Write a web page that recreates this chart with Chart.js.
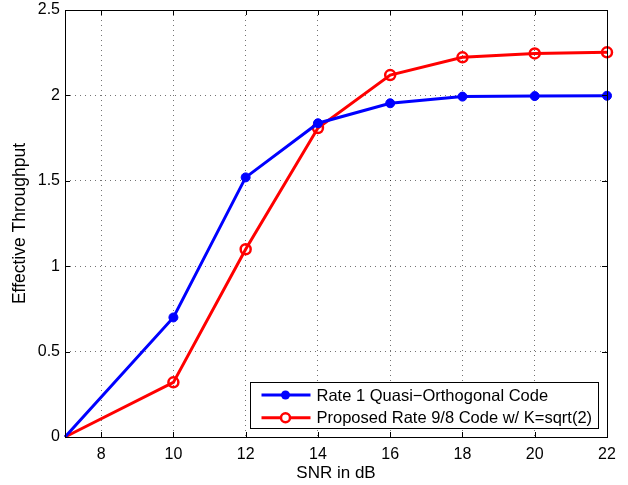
<!DOCTYPE html>
<html>
<head>
<meta charset="utf-8">
<script src="https://cdn.jsdelivr.net/npm/chart.js@4.4.1/dist/chart.umd.min.js"></script>
<style>
  html, body { margin: 0; padding: 0; background: #ffffff; }
  #wrap { width: 628px; height: 485px; }
</style>
</head>
<body>
<div id="wrap"><canvas id="c" width="628" height="485"></canvas></div>
<script>
const snr = [7, 10, 12, 14, 16, 18, 20, 22];
const rate1Quasi = [0, 0.70, 1.52, 1.837, 1.954, 1.993, 1.996, 1.998];
const proposed98 = [0, 0.32, 1.099, 1.809, 2.119, 2.223, 2.246, 2.252];
const xTicks = [8, 10, 12, 14, 16, 18, 20, 22];
const yTicks = [0, 0.5, 1, 1.5, 2, 2.5];
const seriesLabels = ['Rate 1 Quasi\u2212Orthogonal Code', 'Proposed Rate 9/8 Code w/ K=sqrt(2)'];
const xTitle = 'SNR in dB';
const yTitle = 'Effective Throughput';

const FONT = "'Liberation Sans', Arial, Helvetica, sans-serif";

function pts(ys) { return snr.map((x, i) => ({ x: x, y: ys[i] })); }
function radii(r) { return snr.map((x, i) => i === 0 ? 0 : r); }

const boxPlugin = {
  id: 'boxPlugin',
  afterDatasetsDraw(chart) {
    const ctx = chart.ctx;
    const a = chart.chartArea;
    const xs = chart.scales.x, ys = chart.scales.y;
    ctx.save();
    ctx.strokeStyle = '#000';
    ctx.lineWidth = 1;
    ctx.beginPath();
    xTicks.forEach(v => {
      const px = Math.round(xs.getPixelForValue(v)) + 0.5;
      ctx.moveTo(px, a.bottom); ctx.lineTo(px, a.bottom - 5);
      ctx.moveTo(px, a.top); ctx.lineTo(px, a.top + 5);
    });
    yTicks.forEach(v => {
      const py = Math.round(ys.getPixelForValue(v)) + 0.5;
      ctx.moveTo(a.left, py); ctx.lineTo(a.left + 5, py);
      ctx.moveTo(a.right, py); ctx.lineTo(a.right - 5, py);
    });
    ctx.stroke();
    ctx.strokeRect(Math.round(a.left) + 0.5, Math.round(a.top) + 0.5,
                   Math.round(a.right - a.left), Math.round(a.bottom - a.top));
    // legend
    ctx.font = '16.5px ' + FONT;
    const tw = Math.max(...seriesLabels.map(s => ctx.measureText(s).width));
    const bw = Math.round(66 + tw + 6);
    const bh = 46;
    const bx = Math.round(a.right - 9 - bw) + 0.5;
    const by = Math.round(a.bottom - 9 - bh) + 0.5;
    ctx.fillStyle = '#fff';
    ctx.fillRect(bx, by, bw, bh);
    ctx.strokeStyle = '#000';
    ctx.lineWidth = 1;
    ctx.strokeRect(bx, by, bw, bh);
    chart.data.datasets.forEach((ds, i) => {
      const ry = by + 12.5 + i * 22.7;
      ctx.strokeStyle = ds.borderColor;
      ctx.lineWidth = 3;
      ctx.beginPath();
      ctx.moveTo(bx + 11, ry); ctx.lineTo(bx + 60, ry);
      ctx.stroke();
      ctx.beginPath();
      ctx.arc(bx + 35, ry, 4.5, 0, Math.PI * 2);
      if (i === 0) { ctx.fillStyle = ds.borderColor; ctx.fill(); }
      else { ctx.fillStyle = '#fff'; ctx.fill(); ctx.lineWidth = 2.5; ctx.stroke(); }
      ctx.fillStyle = '#000';
      ctx.textBaseline = 'middle';
      ctx.textAlign = 'left';
      ctx.fillText(ds.label, bx + 66, ry + 1);
    });
    ctx.restore();
  }
};

new Chart(document.getElementById('c'), {
  type: 'line',
  data: {
    datasets: [
      {
        label: seriesLabels[0],
        data: pts(rate1Quasi),
        borderColor: '#0000ff',
        backgroundColor: '#0000ff',
        borderWidth: 3,
        pointRadius: radii(4.5),
        pointBorderWidth: 1,
        pointBackgroundColor: '#0000ff',
        pointBorderColor: '#0000ff',
        tension: 0,
        clip: false
      },
      {
        label: seriesLabels[1],
        data: pts(proposed98),
        borderColor: '#ff0000',
        backgroundColor: '#ff0000',
        borderWidth: 3,
        pointRadius: radii(5),
        pointBorderWidth: 2.5,
        pointBackgroundColor: 'rgba(255,255,255,0)',
        pointBorderColor: '#ff0000',
        tension: 0,
        clip: false
      }
    ]
  },
  options: {
    responsive: false,
    animation: false,
    devicePixelRatio: 1,
    layout: { padding: { left: 0, right: 21, top: 10, bottom: 0 } },
    plugins: { legend: { display: false }, tooltip: { enabled: false } },
    scales: {
      x: {
        type: 'linear',
        min: 7, max: 22,
        afterBuildTicks: s => { s.ticks = xTicks.map(v => ({ value: v })); },
        afterFit: s => { s.height = 48; },
        grid: { color: 'rgba(0,0,0,0.55)', lineWidth: 1, drawTicks: false },
        border: { display: false, dash: [1, 4] },
        ticks: { color: '#000', font: { family: FONT, size: 16 }, padding: 8, maxRotation: 0, callback: v => String(v) },
        title: { display: true, text: xTitle, color: '#000', font: { family: FONT, size: 17 }, padding: { top: 0, bottom: 1 } }
      },
      y: {
        type: 'linear',
        min: 0, max: 2.5,
        afterBuildTicks: s => { s.ticks = yTicks.map(v => ({ value: v })); },
        afterFit: s => { s.width = 65; },
        grid: { color: 'rgba(0,0,0,0.55)', lineWidth: 1, drawTicks: false },
        border: { display: false, dash: [1, 4] },
        ticks: { color: '#000', font: { family: FONT, size: 16, lineHeight: 0.6 }, padding: 5, callback: v => String(v) },
        title: { display: true, text: yTitle, color: '#000', font: { family: FONT, size: 17.5 }, padding: { top: 10, bottom: 0 } }
      }
    }
  },
  plugins: [boxPlugin]
});
</script>
</body>
</html>
